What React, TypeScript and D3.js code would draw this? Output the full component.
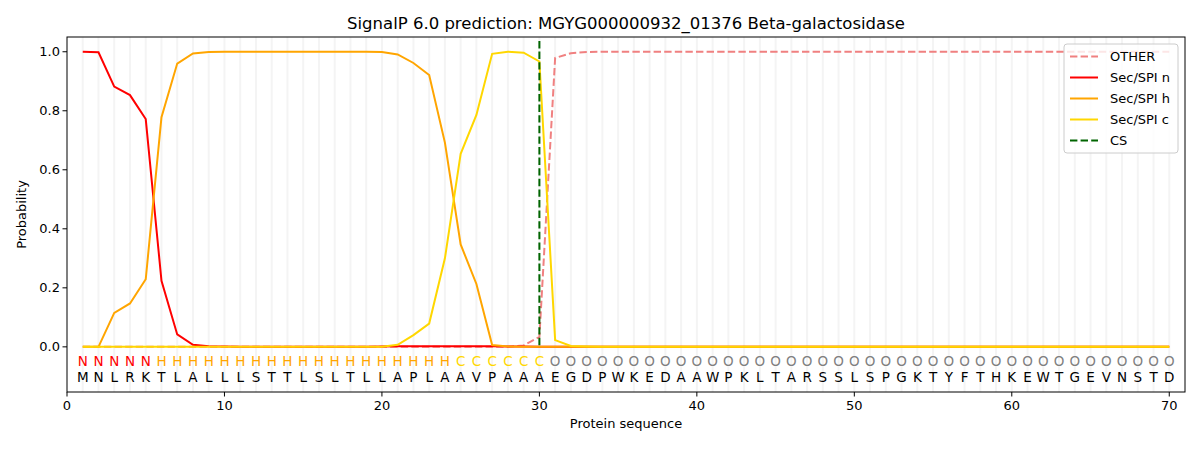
import React, { useEffect, useRef } from 'react';
import * as d3 from 'd3';

const sequence = 'MNLRKTLALLLSTTLSLTLLAPLAAVPAAAEGDPWKEDAAWPKLTARSSLSPGKTYFTHKEWTGEVNSTD'.split('');
const labels = ('NNNNN' + 'H'.repeat(19) + 'C'.repeat(6) + 'O'.repeat(40)).split('');

const pad0 = (n: number) => new Array(n).fill(0);
const pad1 = (n: number) => new Array(n).fill(1);

const secN = [1.0, 0.998, 0.882, 0.853, 0.772, 0.224, 0.042, 0.007, 0.002, 0.001,
  ...pad0(9), 0.001, 0.002, 0.002, 0.002, 0.002, 0.002, 0.002, 0.002, 0.001, 0.001, 0.0, ...pad0(40)];
const secH = [0, 0, 0.115, 0.147, 0.229, 0.778, 0.96, 0.994, 0.999, 1.0,
  ...pad1(9), 0.999, 0.991, 0.962, 0.921, 0.692, 0.347, 0.213, 0.006, 0.001, 0, 0, ...pad0(40)];
const secC = [...pad0(20), 0.007, 0.04, 0.079, 0.3, 0.654, 0.786, 0.993, 1.0, 0.997, 0.967,
  0.023, 0.003, 0.001, ...pad0(37)];
const other = [...pad0(28), 0.005, 0.034, 0.979, 0.995, 0.999, ...pad1(37)];
const csPos = 30;

const xTicks = [0, 10, 20, 30, 40, 50, 60, 70];
const yTicks = [0, 0.2, 0.4, 0.6, 0.8, 1.0];

const labelColor: Record<string, string> = { N: '#ff0000', H: '#ffa500', C: '#ffd700', O: '#808080' };

const series = [
  { name: 'OTHER', values: other, color: '#f08080', dash: '7.4,3.2' },
  { name: 'Sec/SPI n', values: secN, color: '#ff0000', dash: null },
  { name: 'Sec/SPI h', values: secH, color: '#ffa500', dash: null },
  { name: 'Sec/SPI c', values: secC, color: '#ffd700', dash: null },
];

export default function App() {
  const svgRef = useRef<SVGSVGElement>(null);

  useEffect(() => {
    document.body.style.margin = '0';
    const svg = d3.select(svgRef.current);
    svg.selectAll('*').remove();
    const font = 'DejaVu Sans, sans-serif';

    const left = 67, right = 1185, top = 37, bottom = 392;
    const x = d3.scaleLinear().domain([0, 71]).range([left, right]);
    const y = d3.scaleLinear().domain([-0.153, 1.05]).range([bottom, top]);

    svg.append('rect').attr('width', 1200).attr('height', 450).attr('fill', '#fff');

    // vertical grid per residue
    svg.append('g').selectAll('line').data(sequence.map((_, i) => i + 1)).enter().append('line')
      .attr('x1', d => x(d)).attr('x2', d => x(d))
      .attr('y1', top).attr('y2', bottom)
      .attr('stroke', '#f4f4f4').attr('stroke-width', 2);

    const line = d3.line<number>().x((_, i) => x(i + 1)).y(d => y(d));
    series.forEach(s => {
      svg.append('path').datum(s.values)
        .attr('d', line).attr('fill', 'none')
        .attr('stroke', s.color).attr('stroke-width', 2)
        .attr('stroke-dasharray', s.dash);
    });

    svg.append('line')
      .attr('x1', x(csPos)).attr('x2', x(csPos))
      .attr('y1', top + 4).attr('y2', y(0))
      .attr('stroke', '#006400').attr('stroke-width', 2)
      .attr('stroke-dasharray', '7.4,3.2');

    // residue letters
    const lg = svg.append('g').attr('font-family', font).attr('font-size', 13.5).attr('text-anchor', 'middle');
    labels.forEach((l, i) => {
      lg.append('text').attr('x', x(i + 1)).attr('y', y(-0.05)).attr('dy', '0.35em')
        .attr('fill', labelColor[l]).text(l);
    });
    sequence.forEach((l, i) => {
      lg.append('text').attr('x', x(i + 1)).attr('y', y(-0.102)).attr('dy', '0.35em')
        .attr('fill', '#000').text(l);
    });

    // axes frame
    svg.append('rect').attr('x', left).attr('y', top).attr('width', right - left).attr('height', bottom - top)
      .attr('fill', 'none').attr('stroke', '#000').attr('stroke-width', 1);

    const xAxis = svg.append('g').attr('font-family', font).attr('font-size', 13);
    xTicks.forEach(t => {
      xAxis.append('line').attr('x1', x(t)).attr('x2', x(t)).attr('y1', bottom).attr('y2', bottom + 4.5).attr('stroke', '#000');
      xAxis.append('text').attr('x', x(t)).attr('y', bottom + 18).attr('text-anchor', 'middle').text(t);
    });
    const yAxis = svg.append('g').attr('font-family', font).attr('font-size', 13);
    yTicks.forEach(t => {
      yAxis.append('line').attr('x1', left - 4.5).attr('x2', left).attr('y1', y(t)).attr('y2', y(t)).attr('stroke', '#000');
      yAxis.append('text').attr('x', left - 7).attr('y', y(t)).attr('dy', '0.35em').attr('text-anchor', 'end').text(t.toFixed(1));
    });

    svg.append('text').attr('x', (left + right) / 2).attr('y', 428).attr('text-anchor', 'middle')
      .attr('font-family', font).attr('font-size', 13).text('Protein sequence');
    svg.append('text').attr('transform', `translate(26,${(top + bottom) / 2}) rotate(-90)`).attr('text-anchor', 'middle')
      .attr('font-family', font).attr('font-size', 13).text('Probability');
    svg.append('text').attr('x', (left + right) / 2).attr('y', 29).attr('text-anchor', 'middle')
      .attr('font-family', font).attr('font-size', 16.5).text('SignalP 6.0 prediction: MGYG000000932_01376 Beta-galactosidase');

    // legend
    const leg = svg.append('g').attr('font-family', font).attr('font-size', 13);
    leg.append('rect').attr('x', 1064).attr('y', 44).attr('width', 114).attr('height', 109).attr('rx', 3)
      .attr('fill', 'rgba(255,255,255,0.8)').attr('stroke', '#ccc');
    const entries = [
      ...series.map(s => ({ name: s.name, color: s.color, dash: s.dash })),
      { name: 'CS', color: '#006400', dash: '7.4,3.2' },
    ];
    entries.forEach((e, i) => {
      const yy = 56.5 + i * 21;
      leg.append('line').attr('x1', 1070).attr('x2', 1098).attr('y1', yy).attr('y2', yy)
        .attr('stroke', e.color).attr('stroke-width', 2).attr('stroke-dasharray', e.dash);
      leg.append('text').attr('x', 1110).attr('y', yy).attr('dy', '0.35em').text(e.name);
    });
  }, []);

  return <svg ref={svgRef} width={1200} height={450} />;
}
